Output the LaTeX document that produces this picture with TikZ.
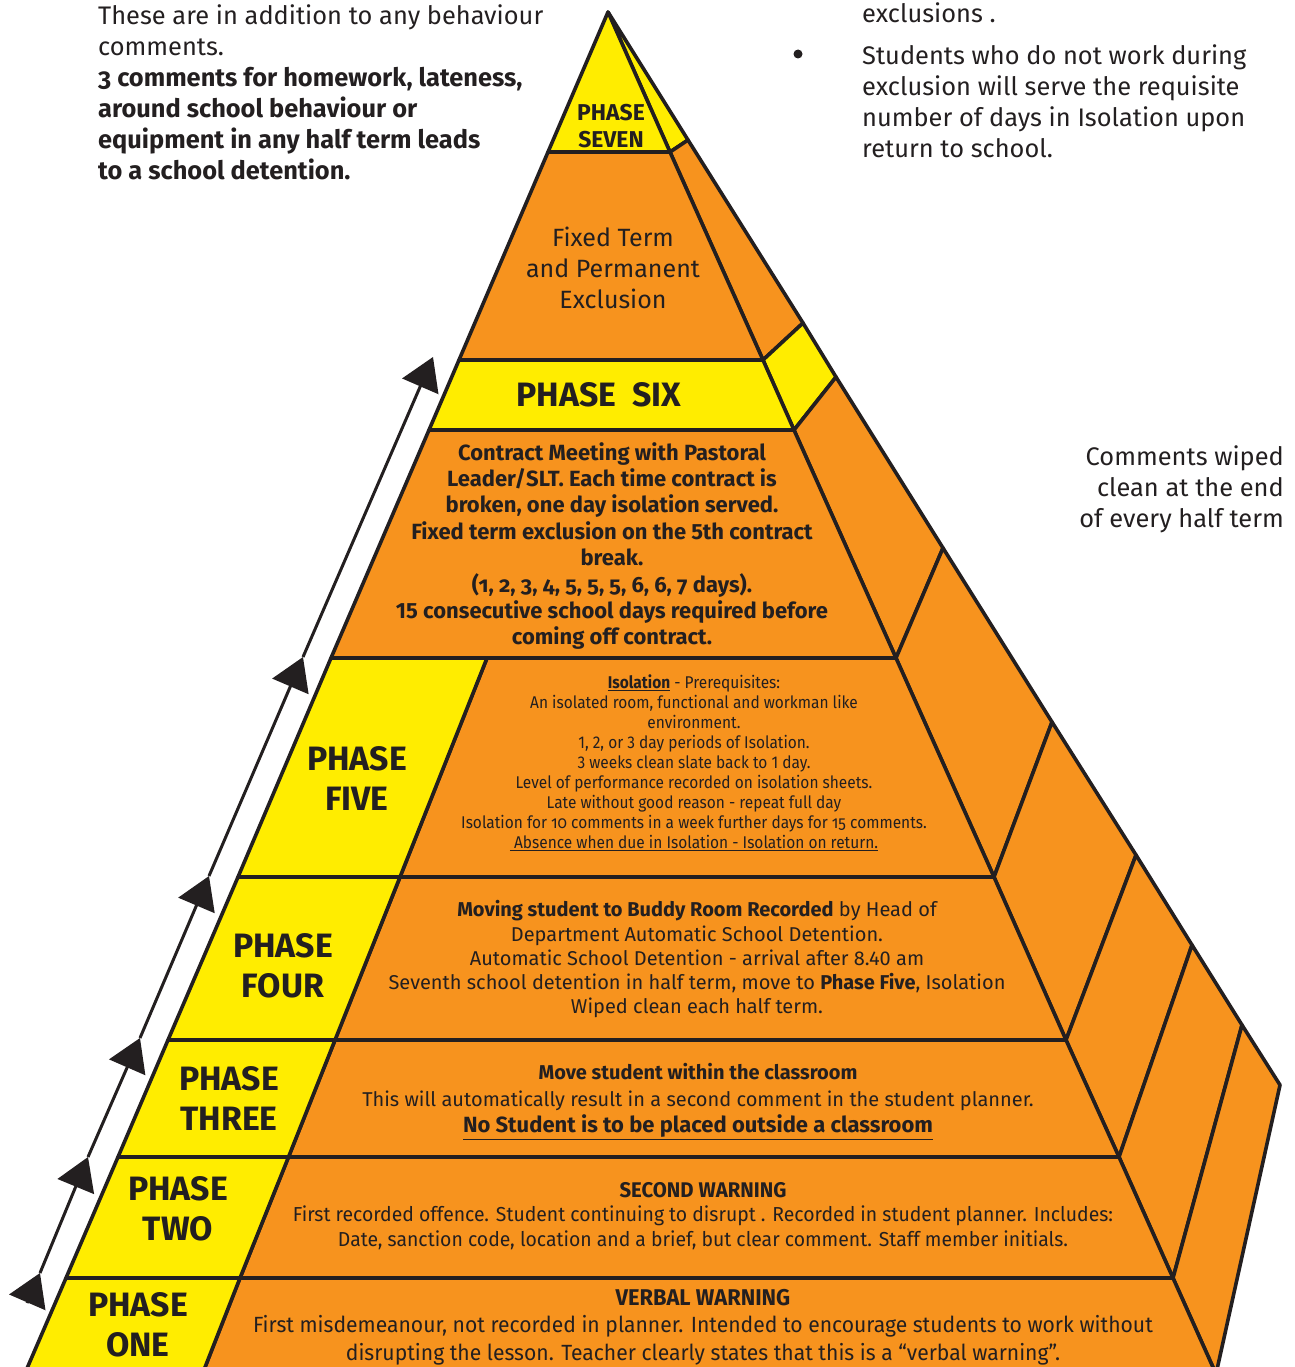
\documentclass[tikz,border=0pt]{standalone}
\usepackage{fontspec}
\setmainfont{Fira Sans}
\newfontfamily\condb[FakeStretch=0.91]{Fira Sans}
\newfontfamily\condc[FakeStretch=0.96]{Fira Sans}
\newcommand\osf[1]{{\addfontfeature{Numbers=OldStyle}#1}}
\usetikzlibrary{arrows.meta}
\definecolor{pyel}{RGB}{255,237,0}
\definecolor{porg}{RGB}{247,147,30}
\definecolor{ink}{RGB}{35,31,32}
\tikzset{
  face/.style={draw=ink, line width=3.6pt, line join=round},
  yel/.style={face, fill=pyel},
  org/.style={face, fill=porg},
  txt/.style={text=ink, inner sep=0pt},
  lbl/.style={txt, align=center, font=\bfseries\fontsize{33.8}{40}\selectfont},
  uparrow/.style={draw=ink, line width=3pt, -{Triangle[length=32pt,width=39pt]}},
  outtxt/.style={txt, font=\fontsize{25.4}{31}\selectfont},
}
\begin{document}
\begin{tikzpicture}[x=1pt,y=-1pt]
\useasboundingbox (0,0) rectangle (1294,1367);
\clip (0,0) rectangle (1294,1367);
% apex and edges
\coordinate (A) at (608,12);
\coordinate (L152) at (548,152);
\coordinate (L360) at (459,360);
\coordinate (L430) at (429,430);
\coordinate (L658) at (331,658);
\coordinate (L877) at (238,877);
\coordinate (L1040) at (168,1040);
\coordinate (L1157) at (118,1157);
\coordinate (L1278) at (66,1278);
\coordinate (L1380) at (22,1380);
\coordinate (R152) at (670,152);
\coordinate (R360) at (763,360);
\coordinate (R430) at (794,430);
\coordinate (R658) at (896,658);
\coordinate (R877) at (994,877);
\coordinate (R1040) at (1066,1040);
\coordinate (R1157) at (1119,1157);
\coordinate (R1278) at (1173,1278);
\coordinate (Rbot) at (1216,1374);
\coordinate (Rx) at (1222,1390);
\coordinate (M658) at (487,658);
\coordinate (M877) at (400,877);
\coordinate (M1040) at (335,1040);
\coordinate (M1157) at (288.5,1157);
\coordinate (M1278) at (240,1278);
\coordinate (M1380) at (200,1380);
\coordinate (O140) at (688,140);
\coordinate (O323) at (803,323);
\coordinate (O377) at (836,377);
\coordinate (O548) at (943,548);
\coordinate (O722) at (1052,722);
\coordinate (O855) at (1136,855);
\coordinate (O945) at (1192,945);
\coordinate (O1025) at (1242,1025);
\coordinate (O1085) at (1280,1085);
% side face
\draw[yel] (A) -- (O140) -- (R152) -- cycle;
\draw[org] (R152) -- (O140) -- (O323) -- (R360) -- cycle;
\draw[yel] (R360) -- (O323) -- (O377) -- (R430) -- cycle;
\draw[org] (R430) -- (O377) -- (O548) -- (R658) -- cycle;
\draw[org] (R658) -- (O548) -- (O722) -- (R877) -- cycle;
\draw[org] (R877) -- (O722) -- (O855) -- (R1040) -- cycle;
\draw[org] (R1040) -- (O855) -- (O945) -- (R1157) -- cycle;
\draw[org] (R1157) -- (O945) -- (O1025) -- (R1278) -- cycle;
\draw[org] (R1278) -- (O1025) -- (O1085) -- (Rbot) -- cycle;
% front face
\draw[yel] (A) -- (R152) -- (L152) -- cycle;
\draw[org] (L152) -- (R152) -- (R360) -- (L360) -- cycle;
\draw[yel] (L360) -- (R360) -- (R430) -- (L430) -- cycle;
\draw[org] (L430) -- (R430) -- (R658) -- (L658) -- cycle;
\draw[org] (M658) -- (R658) -- (R877) -- (M877) -- cycle;
\draw[yel] (L658) -- (M658) -- (M877) -- (L877) -- cycle;
\draw[org] (M877) -- (R877) -- (R1040) -- (M1040) -- cycle;
\draw[yel] (L877) -- (M877) -- (M1040) -- (L1040) -- cycle;
\draw[org] (M1040) -- (R1040) -- (R1157) -- (M1157) -- cycle;
\draw[yel] (L1040) -- (M1040) -- (M1157) -- (L1157) -- cycle;
\draw[org] (M1157) -- (R1157) -- (R1278) -- (M1278) -- cycle;
\draw[yel] (L1157) -- (M1157) -- (M1278) -- (L1278) -- cycle;
\draw[org] (M1278) -- (R1278) -- (Rbot) -- (Rx) -- (M1380) -- cycle;
\draw[yel] (L1278) -- (M1278) -- (M1380) -- (L1380) -- cycle;
% arrow line
\coordinate (a0) at (27,1303);
\coordinate (a1) at (40,1273);
\coordinate (a2) at (88,1157);
\coordinate (a3) at (140,1038);
\coordinate (a4) at (209,876);
\coordinate (a5) at (303,657);
\coordinate (a6) at (433,357);
\draw[uparrow] (a0) -- (a1);
\draw[uparrow] (a1) -- (a2);
\draw[uparrow] (a2) -- (a3);
\draw[uparrow] (a3) -- (a4);
\draw[uparrow] (a4) -- (a5);
\draw[uparrow] (a5) -- (a6);
% texts outside
\node[outtxt, anchor=west, align=left] (tl) at (98,92) {These are in addition to any behaviour\\comments.\\\textbf{\osf{3} comments for homework, lateness,}\\\textbf{around school behaviour or}\\\textbf{equipment in any half term leads}\\\textbf{to a school detention.}};
\node[outtxt, anchor=west] (ex) at (862,13) {exclusions .};
\node[outtxt, anchor=west, align=left] (stu) at (862,101.5) {Students who do not work during\\exclusion will serve the requisite\\number of days in Isolation upon\\return to school.};
\node[circle, fill=ink, inner sep=0pt, minimum size=9pt] (bul) at (798,54) {};
\node[outtxt, anchor=east, align=right] (cw) at (1284,489) {Comments wiped\\clean at the end\\of every half term};
% phase labels
\node[lbl, font=\bfseries\fontsize{22.9}{27}\selectfont] (p7) at (611,126.5) {PHASE\\SEVEN};
\node[lbl] (p6) at (599,395) {PHASE\ \ SIX};
\node[lbl] (p5) at (357,778) {PHASE\\FIVE};
\node[lbl] (p4) at (283,966) {PHASE\\FOUR};
\node[lbl] (p3) at (229,1098) {PHASE\\THREE};
\node[lbl] (p2) at (178,1209) {PHASE\\TWO};
\node[lbl] (p1) at (138,1325) {PHASE\\ONE};
% inner texts
\node[txt, align=center, font=\fontsize{25}{31}\selectfont] (ft) at (613,267.5) {Fixed Term\\and Permanent\\Exclusion};
\node[txt, align=center, font=\bfseries\fontsize{22}{26.4}\selectfont] (ct) at (612,546) {Contract Meeting with Pastoral\\Leader/SLT. Each time contract is\\broken, one day isolation served.\\Fixed term exclusion on the 5th contract\\break.\\\osf{(1, 2, 3, 4, 5, 5, 5, 6, 6, 7} days).\\15 consecutive school days required before\\coming off contract.};
\node[txt, align=center, font=\condb\fontsize{17}{20}\selectfont] (iso) at (694,763) {\underline{\textbf{Isolation}} - Prerequisites:\\An isolated room, functional and workman like\\environment.\\1, 2, or 3 day periods of Isolation.\\3 weeks clean slate back to 1 day.\\Level of performance recorded on isolation sheets.\\Late without good reason - repeat full day\\Isolation for \osf{10} comments in a week further days for \osf{15} comments.\\\underline{\ Absence when due in Isolation - Isolation on return.}};
\node[txt, align=center, font=\fontsize{20}{24.25}\selectfont] (p4t) at (697,959.5) {\textbf{Moving student to Buddy Room Recorded} by Head of\\Department Automatic School Detention.\\Automatic School Detention - arrival after 8.40 am\\Seventh school detention in half term, move to \textbf{Phase Five}, Isolation\\Wiped clean each half term.};
\node[txt, align=center, font=\fontsize{20}{26.5}\selectfont] (p3t) at (698,1101.5) {\textbf{Move student within the classroom}\\This will automatically result in a second comment in the student planner.\\{\fontsize{22}{26.5}\selectfont\bfseries\underline{No Student is to be placed outside a classroom}}};
\node[txt, align=center, font=\condc\fontsize{20.2}{24.5}\selectfont] (p2t) at (703,1216) {{\fontsize{21.2}{24.5}\selectfont\bfseries SECOND WARNING}\\First recorded offence. Student continuing to disrupt . Recorded in student planner. Includes:\\Date, sanction code, location and a brief, but clear comment. Staff member initials.};
\node[txt, align=center, font=\condc\fontsize{22}{27.5}\selectfont] (p1t) at (703,1327) {{\fontsize{22.8}{27.5}\selectfont\bfseries VERBAL WARNING}\\First misdemeanour, not recorded in planner. Intended to encourage students to work without\\disrupting the lesson. Teacher clearly states that this is a “verbal warning”.};
\end{tikzpicture}
\end{document}
